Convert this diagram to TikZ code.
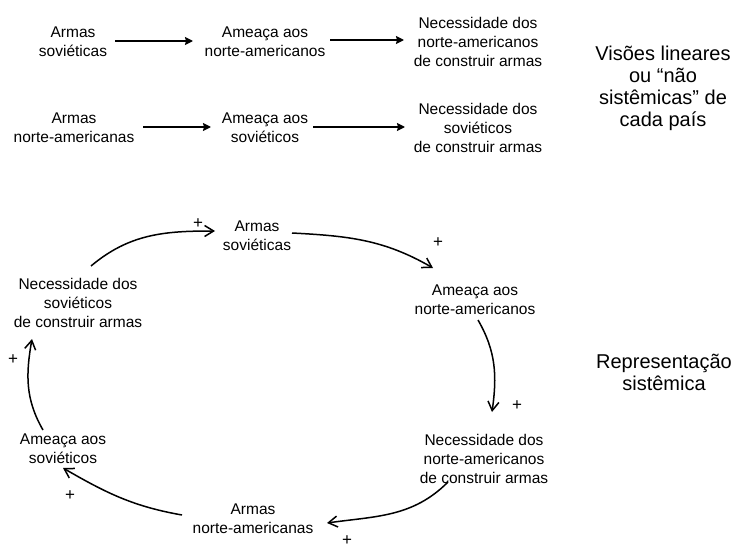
\documentclass[tikz,border=0pt]{standalone}
\usepackage{fontspec}
\setmainfont{Liberation Sans}
\usetikzlibrary{arrows.meta}
\tikzstyle{txt} = [align=center, inner sep=0pt, font=\fontsize{15.5}{19}\selectfont]
\tikzstyle{side_txt} = [align=center, inner sep=0pt, font=\fontsize{20}{22}\selectfont]
\tikzstyle{plus} = [inner sep=0pt, font=\fontsize{17}{19}\selectfont]
\tikzstyle{arrow} = [line width=1.6pt,-{Stealth[length=8pt,width=8pt,inset=1pt]}]
\tikzstyle{feedback} = [line width=1.5pt,-{Straight Barb[length=9pt,width=11pt]}]

\begin{document}
\begin{tikzpicture}[x=1pt,y=-1pt]
        \useasboundingbox (0,0) rectangle (738,548);
        % linear views
        \node (l1_armas) [txt] at (73,42) {Armas\\soviéticas};
        \node (l1_ameaca) [txt] at (265,42) {Ameaça aos\\norte-americanos};
        \node (l1_nec) [txt] at (478,42) {Necessidade dos\\norte-americanos\\de construir armas};
        \node (l2_armas) [txt] at (74,128) {Armas\\norte-americanas};
        \node (l2_ameaca) [txt] at (265,128) {Ameaça aos\\soviéticos};
        \node (l2_nec) [txt] at (478,128) {Necessidade dos\\soviéticos\\de construir armas};
        \draw [arrow] ([shift={(42,-1)}]l1_armas.center) -- ([shift={(-72,-1)}]l1_ameaca.center);
        \draw [arrow] ([shift={(65,-2)}]l1_ameaca.center) -- ([shift={(-74,-2)}]l1_nec.center);
        \draw [arrow] ([shift={(69,-1)}]l2_armas.center) -- ([shift={(-54,-1)}]l2_ameaca.center);
        \draw [arrow] ([shift={(48,-1)}]l2_ameaca.center) -- ([shift={(-73,-1)}]l2_nec.center);
        \node (visoes) [side_txt] at (663,88) {Visões lineares\\ou “não\\sistêmicas” de\\cada país};
        % systemic loop
        \node (c_armas_sov) [txt] at (257,236) {Armas\\soviéticas};
        \node (c_ameaca_na) [txt] at (475,300) {Ameaça aos\\norte-americanos};
        \node (c_nec_na) [txt] at (484,459) {Necessidade dos\\norte-americanos\\de construir armas};
        \node (c_armas_na) [txt] at (253,519) {Armas\\norte-americanas};
        \node (c_ameaca_sov) [txt] at (63,449) {Ameaça aos\\soviéticos};
        \node (c_nec_sov) [txt] at (78,303) {Necessidade dos\\soviéticos\\de construir armas};
        \draw [feedback] ([shift={(13,-37)}]c_nec_sov.center) to[out=40,in=180] node[plus, at end, xshift=-17pt, yshift=7pt] {+} ([shift={(-42,-5)}]c_armas_sov.center);
        \draw [feedback] ([shift={(35,-3)}]c_armas_sov.center) to[out=-3,in=150] node[plus, at end, xshift=5pt, yshift=25pt] {+} ([shift={(-42,-32)}]c_ameaca_na.center);
        \draw [feedback] ([shift={(3,20)}]c_ameaca_na.center) to[out=-60,in=82] node[plus, at end, xshift=25pt, yshift=6pt] {+} ([shift={(8,-47)}]c_nec_na.center);
        \draw [feedback] ([shift={(-36,23)}]c_nec_na.center) to[out=-135,in=8] node[plus, at end, xshift=20pt, yshift=-18pt] {+} ([shift={(74,4)}]c_armas_na.center);
        \draw [feedback] ([shift={(-71,-4)}]c_armas_na.center) to[out=170,in=-30] node[plus, at end, xshift=7pt, yshift=-28pt] {+} ([shift={(0,19)}]c_ameaca_sov.center);
        \draw [feedback] ([shift={(-20,-19)}]c_ameaca_sov.center) to[out=120,in=-100] node[plus, at end, xshift=-19pt, yshift=-21pt] {+} ([shift={(-46,36)}]c_nec_sov.center);
        \node (repr) [side_txt] at (664,372) {Representação\\sistêmica};
      \end{tikzpicture}
\end{document}
